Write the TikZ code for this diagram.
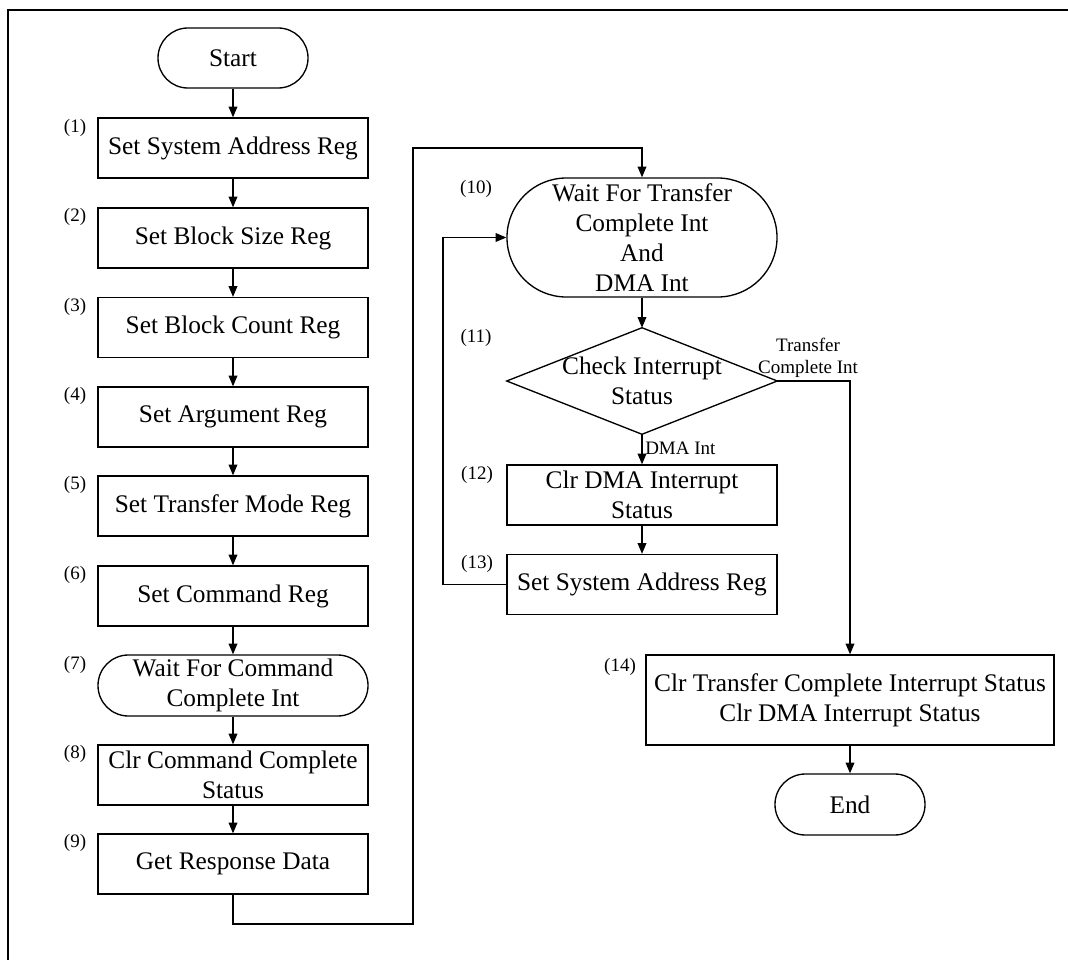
\documentclass[tikz,border=0pt]{standalone}
\usepackage{fontspec}
\setmainfont{Liberation Serif}
\usetikzlibrary{arrows.meta}
\begin{document}
\begin{tikzpicture}[x=0.75pt,y=-0.75pt,
  every node/.style={font=\fontsize{19pt}{22.5pt}\selectfont, align=center, inner sep=0pt},
  box/.style={draw, line width=1pt, minimum width=202.5pt, minimum height=45pt},
  term/.style={draw, line width=1pt, rounded corners=#1},
  num/.style={font=\fontsize{14.25pt}{16.5pt}\selectfont},
  lbl/.style={font=\fontsize{14.25pt}{16.5pt}\selectfont},
  arr/.style={line width=1pt, -{Triangle[length=8pt,width=6.5pt]}},
  ln/.style={line width=1pt}]
\useasboundingbox (0,0) rectangle (1068,960);
% frame
\coordinate (f1) at (1068,10);
\coordinate (f2) at (8,10);
\coordinate (f3) at (8,960);
\draw[line width=1.3pt] (f1) -- (f2) -- (f3);
% left column
\node[term=22.4pt, minimum width=112.5pt, minimum height=45pt] (start) at (233,58) {Start};
\node[box] (b1) at (233,148) {Set System Address Reg};
\node[box] (b2) at (233,238) {Set Block Size Reg};
\node[box] (b3) at (233,327.5) {Set Block Count Reg};
\node[box] (b4) at (233,417) {Set Argument Reg};
\node[box] (b5) at (233,506) {Set Transfer Mode Reg};
\node[box] (b6) at (233,596) {Set Command Reg};
\node[term=22.8pt, minimum width=202.5pt, minimum height=45.75pt] (b7) at (233,685.5) {Wait For Command\\Complete Int};
\node[box] (b8) at (233,775) {Clr Command Complete\\Status};
\node[box] (b9) at (233,864) {Get Response Data};
% right column
\node[term=44.5pt, minimum width=202.5pt, minimum height=89.25pt] (b10) at (642,237.5) {Wait For Transfer\\Complete Int\\And\\DMA Int};
\node[minimum width=202.5pt, minimum height=79.5pt] (d) at (642,381) {Check Interrupt\\Status};
\draw[ln] (d.west) -- (d.north) -- (d.east) -- (d.south) -- cycle;
\node[box] (b12) at (642,495) {Clr DMA Interrupt\\Status};
\node[box] (b13) at (642,584.5) {Set System Address Reg};
\node[box, minimum width=306pt, minimum height=67.5pt] (b14) at (850,700) {Clr Transfer Complete Interrupt Status\\Clr DMA Interrupt Status};
\node[term=22.8pt, minimum width=112.5pt, minimum height=45.75pt] (end) at (850,804.5) {End};
% step numbers
\node[num] (n1) at (75,127.5) {(1)};
\node[num] (n2) at (75,217) {(2)};
\node[num] (n3) at (75,307) {(3)};
\node[num] (n4) at (75,396) {(4)};
\node[num] (n5) at (75,485) {(5)};
\node[num] (n6) at (75,575) {(6)};
\node[num] (n7) at (75,665) {(7)};
\node[num] (n8) at (75,754) {(8)};
\node[num] (n9) at (75,843) {(9)};
\node[num] (n10) at (476,189) {(10)};
\node[num] (n11) at (476,338) {(11)};
\node[num] (n12) at (477,475) {(12)};
\node[num] (n13) at (477,564) {(13)};
\node[num] (n14) at (620,667) {(14)};
% branch labels
\node[lbl] (tci) at (808,358) {Transfer\\Complete Int};
\node[lbl, anchor=west] (dmai) at (645,448) {DMA Int};
% connectors
\draw[arr] (start.south) -- (b1.north);
\draw[arr] (b1.south) -- (b2.north);
\draw[arr] (b2.south) -- (b3.north);
\draw[arr] (b3.south) -- (b4.north);
\draw[arr] (b4.south) -- (b5.north);
\draw[arr] (b5.south) -- (b6.north);
\draw[arr] (b6.south) -- (b7.north);
\draw[arr] (b7.south) -- (b8.north);
\draw[arr] (b8.south) -- (b9.north);
\coordinate (c1) at (413,924);
\coordinate (c2) at (413,148);
\draw[arr] (b9.south) |- (c1) -- (c2) -| (b10.north);
\draw[arr] (b10.south) -- (d.north);
\draw[arr] (d.south) -- (b12.north);
\draw[arr] (b12.south) -- (b13.north);
\coordinate (c3) at (443,584.5);
\draw[arr] (b13.west) -- (c3) |- (b10.west);
\draw[arr] (d.east) -| (b14.north);
\draw[arr] (b14.south) -- (end.north);
\end{tikzpicture}
\end{document}
